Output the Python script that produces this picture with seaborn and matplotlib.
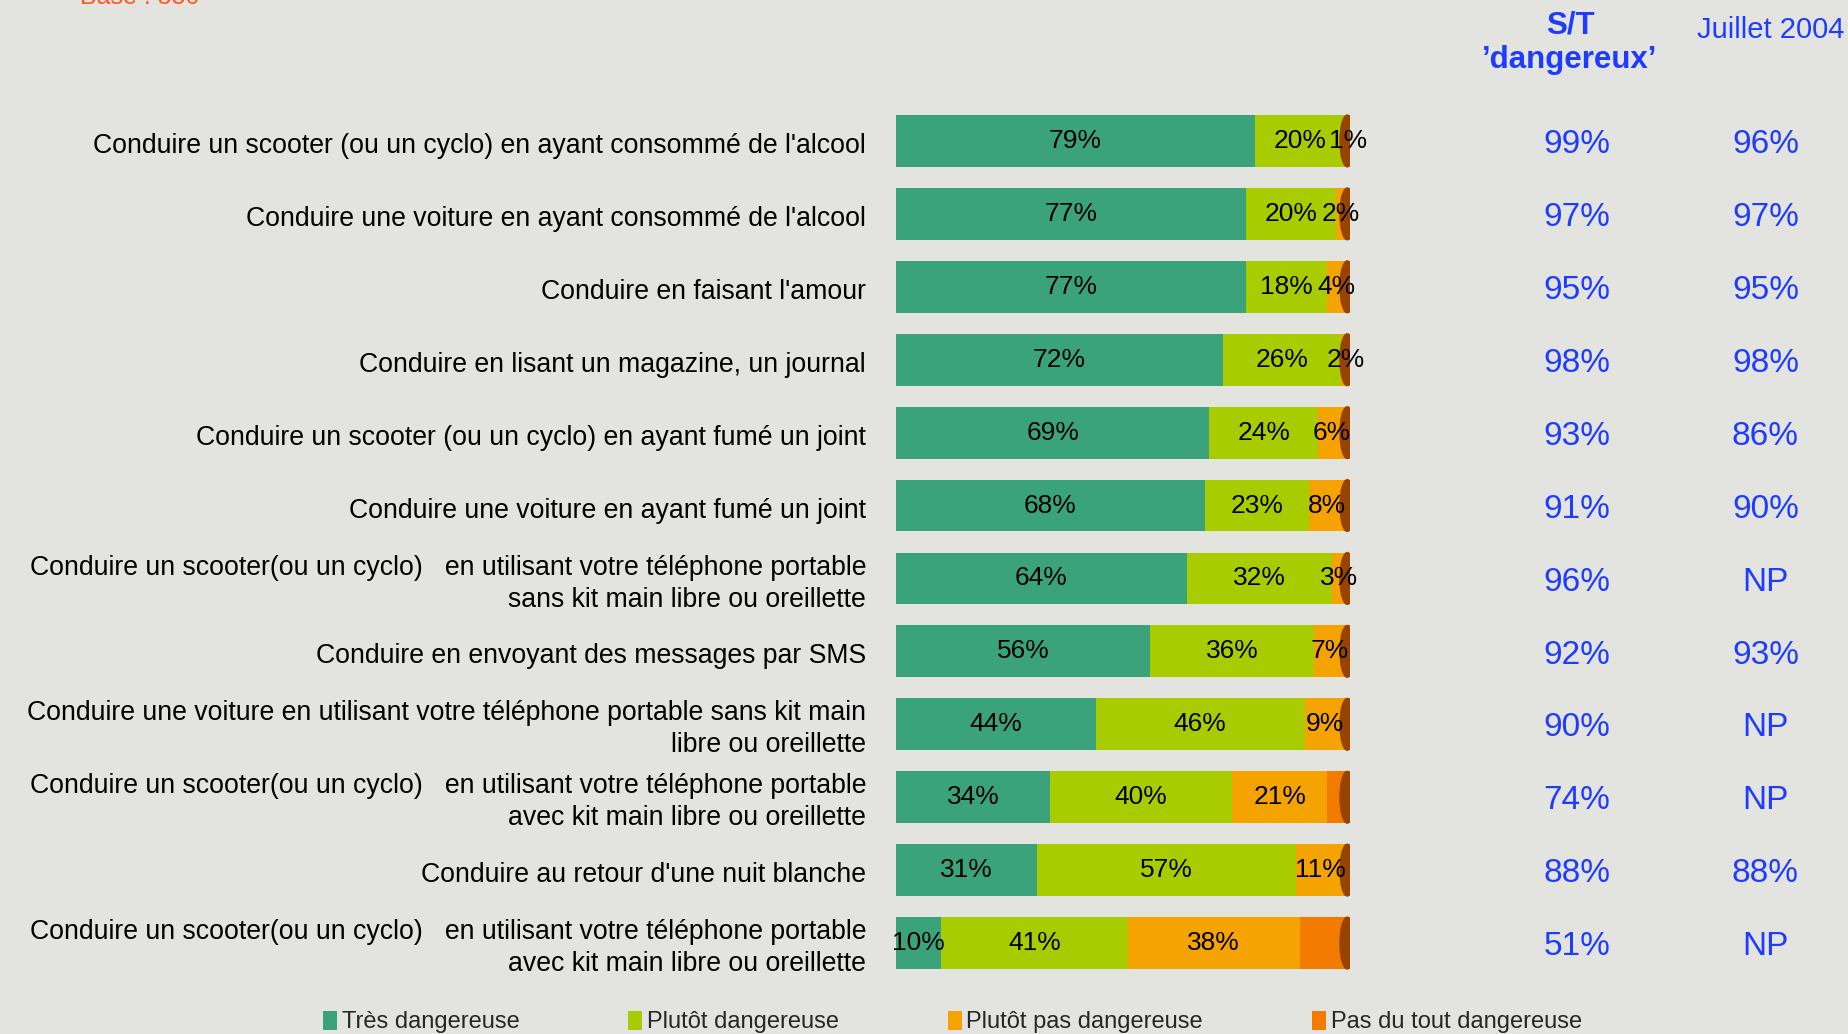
import numpy as np
import pandas as pd
import matplotlib
matplotlib.use("Agg")
import matplotlib.pyplot as plt
from matplotlib.patches import Ellipse, Patch
import seaborn as sns

# Data
items = [
    "Conduire un scooter (ou un cyclo) en ayant consommé de l'alcool",
    "Conduire une voiture en ayant consommé de l'alcool",
    "Conduire en faisant l'amour",
    "Conduire en lisant un magazine, un journal",
    "Conduire un scooter (ou un cyclo) en ayant fumé un joint",
    "Conduire une voiture en ayant fumé un joint",
    "Conduire un scooter(ou un cyclo)   en utilisant votre téléphone portable\nsans kit main libre ou oreillette",
    "Conduire en envoyant des messages par SMS",
    "Conduire une voiture en utilisant votre téléphone portable sans kit main\nlibre ou oreillette",
    "Conduire un scooter(ou un cyclo)   en utilisant votre téléphone portable\navec kit main libre ou oreillette",
    "Conduire au retour d'une nuit blanche",
    "Conduire un scooter(ou un cyclo)   en utilisant votre téléphone portable\navec kit main libre ou oreillette",
]
tres = [79, 77, 77, 72, 69, 68, 64, 56, 44, 34, 31, 10]
plutot = [20, 20, 18, 26, 24, 23, 32, 36, 46, 40, 57, 41]
plutot_pas = [1, 2, 4, 2, 6, 8, 3, 7, 9, 21, 11, 38]
pas_du_tout = [0, 1, 1, 0, 1, 1, 1, 1, 1, 5, 1, 11]
st_dangereux = ["99%", "97%", "95%", "98%", "93%", "91%", "96%", "92%", "90%", "74%", "88%", "51%"]
juillet_2004 = ["96%", "97%", "95%", "98%", "86%", "90%", "NP", "93%", "NP", "NP", "88%", "NP"]

series_names = ["Très dangereuse", "Plutôt dangereuse", "Plutôt pas dangereuse", "Pas du tout dangereuse"]
colours = ["#3AA37B", "#A8CC00", "#F5A300", "#F27B00"]
cap_colour = "#984300"
blue = "#1E3CFF"
bg = "#E3E3DF"

sns.set_theme(style="white")
plt.rcParams["font.family"] = ["Liberation Sans", "DejaVu Sans"]

df = pd.DataFrame({
    "item": [f"r{i}" for i in range(len(items))],
    "s1": tres, "s2": plutot, "s3": plutot_pas, "s4": pas_du_tout,
})
cum = df[["s1", "s2", "s3", "s4"]].cumsum(axis=1)

fig = plt.figure(figsize=(18.49, 10.34), dpi=100)
fig.patch.set_facecolor(bg)
ax = fig.add_axes([896 / 1849, 54.5 / 1034, 454 / 1849, 875 / 1034])
ax.set_facecolor(bg)

# stacked bars: draw cumulative totals from the outermost inwards
for col, colour in zip(["s4", "s3", "s2", "s1"], colours[::-1]):
    sns.barplot(x=cum[col], y=df["item"], orient="h", color=colour,
                width=0.71, ax=ax, saturation=1, edgecolor="none")

ax.set_xlim(0, 100)
ax.set_ylim(len(items) - 0.5, -0.5)
ax.axis("off")

# rounded end caps
for i, total in enumerate(cum["s4"]):
    ax.add_patch(Ellipse((total - 0.6, i), 3.2, 0.71, color=cap_colour, zorder=5))

# segment labels, row labels and the two value columns
for i in range(len(items)):
    starts = [0, cum.loc[i, "s1"], cum.loc[i, "s2"]]
    for k, vals in enumerate([tres, plutot, plutot_pas]):
        v = vals[i]
        if v > 0:
            ax.text(starts[k] + v / 2, i, f"{v}%", ha="center", va="center",
                    fontsize=19, color="black", zorder=6)
    ax.text(-6.6, i + 0.07, items[i], ha="right", va="center", fontsize=19.2,
            color="black", clip_on=False, linespacing=1.3)
    ax.text(150, i + 0.05, st_dangereux[i], ha="center", va="center",
            fontsize=24, color=blue, clip_on=False)
    ax.text(191.5, i + 0.05, juillet_2004[i], ha="center", va="center",
            fontsize=24, color=blue, clip_on=False)

# column headers
fig.text(1570 / 1849, 1 - 26 / 1034, "S/T", ha="center", va="center",
         fontsize=22.5, fontweight="bold", color=blue)
fig.text(1570 / 1849, 1 - 60 / 1034, "\u2019dangereux\u2019", ha="center", va="center",
         fontsize=22.5, fontweight="bold", color=blue)
fig.text(1771 / 1849, 1 - 30 / 1034, "Juillet 2004", ha="center", va="center",
         fontsize=21, color=blue)
fig.text(80 / 1849, 1 - 4 / 1034, "Base : 550", ha="left", va="baseline",
         fontsize=18, color="#FF5A1E")

handles = [Patch(facecolor=c, edgecolor="none") for c in colours]
fig.legend(handles, series_names, loc="center", bbox_to_anchor=(0.515, 1 - 1022 / 1034),
           ncol=4, frameon=False, fontsize=17, handlelength=0.6, handleheight=0.9,
           handletextpad=0.2, columnspacing=4.6)

fig.savefig("out.png", dpi=100, facecolor=bg)
